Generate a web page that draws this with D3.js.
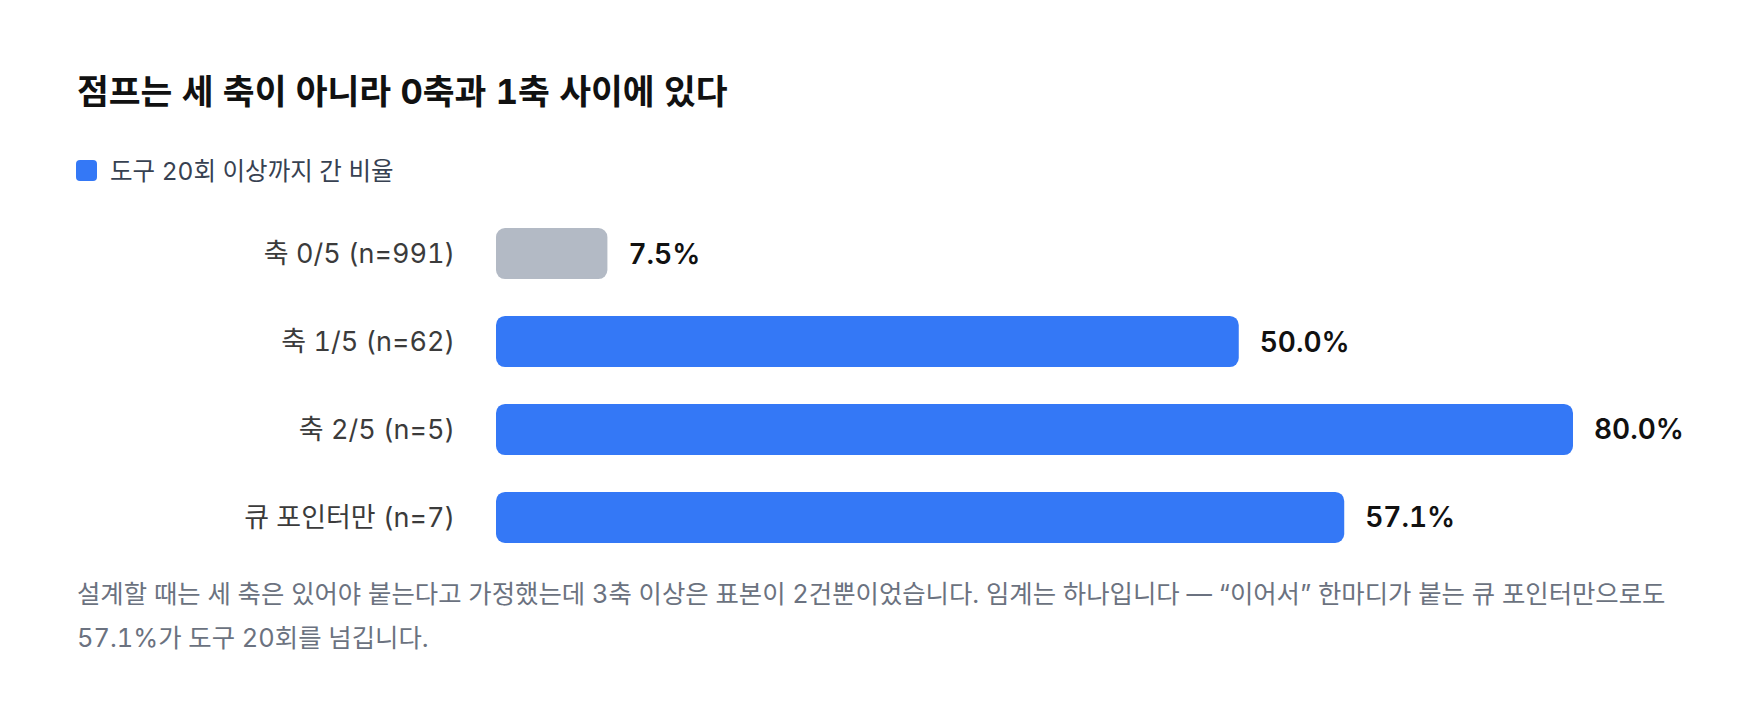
<!DOCTYPE html>
<html>
<head>
	<title>점프는 세 축이 아니라 0축과 1축 사이에 있다</title>
	<meta charset="utf-8">
	<style>
		body {
			margin: 0;
			background: #ffffff;
		}

		.chart text {
			font-family: Inter, "Noto Sans CJK KR", sans-serif;
			font-variant-numeric: tabular-nums;
		}

		.title {
			font-size: 34.6px;
			font-weight: 700;
			fill: #111111;
		}

		.legend text {
			font-size: 24.5px;
			fill: #374151;
		}

		.cat-label {
			font-size: 27px;
			fill: #3b3b3b;
		}

		.value-label {
			font-size: 28px;
			font-weight: 600;
			fill: #111111;
		}

		.note {
			font-size: 25.4px;
			fill: #6b7280;
		}
	</style>
</head>
<body>
	<div class="chart"></div>

	<script src="https://d3js.org/d3.v7.min.js"></script>
	<script>
		// data
		var categories = ["축 0/5 (n=991)", "축 1/5 (n=62)", "축 2/5 (n=5)", "큐 포인터만 (n=7)"];
		var shares = [7.5, 50.0, 80.0, 57.1];
		var highlighted = [false, true, true, true];
		var seriesName = "도구 20회 이상까지 간 비율";
		var titleText = "점프는 세 축이 아니라 0축과 1축 사이에 있다";
		var noteLines = [
			"설계할 때는 세 축은 있어야 붙는다고 가정했는데 3축 이상은 표본이 2건뿐이었습니다. 임계는 하나입니다 — “이어서” 한마디가 붙는 큐 포인터만으로도",
			"57.1%가 도구 20회를 넘깁니다."
		];

		var rows = categories.map(function(c, i) {
			return { name: c, value: shares[i], on: highlighted[i] };
		});

		var W = 1760, H = 720;
		var blue = "#3478f6", grey = "#b3bac5";

		var svg = d3.select(".chart")
			.append("svg")
			.attr("width", W)
			.attr("height", H);

		// title
		svg.append("text")
			.attr("class", "title")
			.attr("x", 77)
			.attr("y", 104)
			.text(titleText);

		// legend
		var legend = svg.append("g")
			.attr("class", "legend")
			.attr("transform", "translate(76,160)");

		legend.append("rect")
			.attr("width", 21)
			.attr("height", 21)
			.attr("rx", 4)
			.attr("fill", blue);

		legend.append("text")
			.attr("x", 34)
			.attr("y", 11)
			.attr("dominant-baseline", "central")
			.text(seriesName);

		// scales
		var barLeft = 496;
		var xScale = d3.scaleLinear()
			.domain([0, 72.5])
			.range([0, 1077])
			.clamp(true);

		var yScale = d3.scaleBand()
			.domain(categories)
			.range([228, 543])
			.paddingInner(0.42)
			.paddingOuter(0);

		// bars
		svg.selectAll(".bar")
			.data(rows)
			.enter()
			.append("rect")
			.attr("class", "bar")
			.attr("x", barLeft)
			.attr("y", function(d) { return yScale(d.name); })
			.attr("width", function(d) { return xScale(d.value); })
			.attr("height", yScale.bandwidth())
			.attr("rx", 9)
			.attr("fill", function(d) { return d.on ? blue : grey; });

		// category labels
		svg.selectAll(".cat-label")
			.data(rows)
			.enter()
			.append("text")
			.attr("class", "cat-label")
			.attr("x", barLeft - 41)
			.attr("y", function(d) { return yScale(d.name) + yScale.bandwidth() / 2; })
			.attr("dominant-baseline", "central")
			.attr("text-anchor", "end")
			.text(function(d) { return d.name; });

		// value labels
		svg.selectAll(".value-label")
			.data(rows)
			.enter()
			.append("text")
			.attr("class", "value-label")
			.attr("x", function(d) { return barLeft + xScale(d.value) + 21; })
			.attr("y", function(d) { return yScale(d.name) + yScale.bandwidth() / 2; })
			.attr("dominant-baseline", "central")
			.text(function(d) { return d.value.toFixed(1) + "%"; });

		// footnote
		svg.append("text")
			.attr("class", "note")
			.selectAll("tspan")
			.data(noteLines)
			.enter()
			.append("tspan")
			.attr("x", 77)
			.attr("y", function(d, i) { return 603 + i * 44; })
			.text(function(d) { return d; });
	</script>
</body>
</html>
